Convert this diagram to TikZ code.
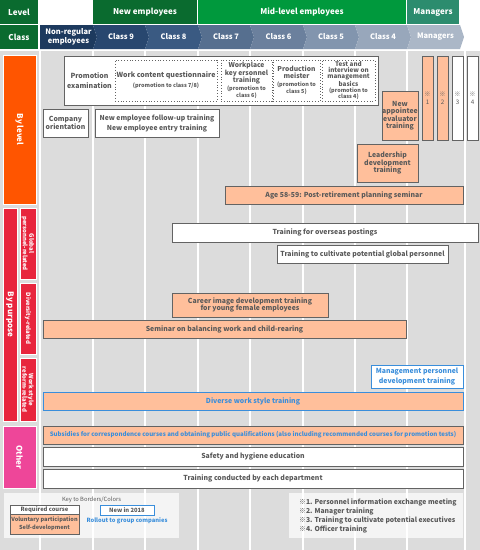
\documentclass[tikz,border=0pt]{standalone}
\usepackage{fontspec}
\setmainfont{Noto Sans CJK JP}
\usetikzlibrary{shapes,backgrounds,positioning}

\definecolor{bggray}{HTML}{DCDCDC}
\definecolor{txtgray}{HTML}{595959}
\definecolor{framegray}{HTML}{636363}
\definecolor{darkgreen}{HTML}{0A6B2F}
\definecolor{midgreen}{HTML}{00993D}
\definecolor{mgrgreen}{HTML}{2C8C6E}
\definecolor{clsA}{HTML}{1D3A5E}
\definecolor{clsB}{HTML}{28476F}
\definecolor{clsC}{HTML}{3A5A82}
\definecolor{clsD}{HTML}{566F8F}
\definecolor{clsE}{HTML}{6B809D}
\definecolor{clsF}{HTML}{8295AE}
\definecolor{clsG}{HTML}{98A7BB}
\definecolor{clsH}{HTML}{ABB7C7}
\definecolor{levelorange}{HTML}{FF5500}
\definecolor{purposered}{HTML}{E8253D}
\definecolor{otherpink}{HTML}{EE4699}
\definecolor{peach}{HTML}{FFBF9B}
\definecolor{newblue}{HTML}{3A8EDB}

\tikzstyle{colline}=[white,line width=1.2pt]
\tikzstyle{head}=[rectangle,inner sep=0pt,minimum height=24pt,text=white,
                  font=\bfseries\fontsize{8}{9}\selectfont]
\tikzstyle{classlbl}=[inner sep=0pt,align=center,text=white,
                      font=\bfseries\fontsize{7.5}{8.5}\selectfont]
\tikzstyle{sidebar}=[rectangle,draw=white,line width=.5pt,inner sep=0pt,rotate=-90,
                     align=center,text=white,font=\bfseries\fontsize{8}{9}\selectfont]
\tikzstyle{subbar}=[sidebar,minimum height=16pt,fill=purposered,
                    font=\bfseries\fontsize{6}{6.5}\selectfont]
\tikzstyle{course}=[rectangle,draw=framegray,line width=.8pt,fill=white,align=center,
                    inner sep=0pt,text=txtgray,font=\bfseries\fontsize{6.9}{7.5}\selectfont]
\tikzstyle{voluntary}=[course,fill=peach]
\tikzstyle{newcourse}=[course,draw=newblue,text=newblue]
\tikzstyle{promobox}=[course,dotted,line width=.9pt]
\tikzstyle{starbox}=[course,minimum width=11pt,minimum height=84pt,
                     font=\fontsize{6.2}{7.5}\selectfont]
\tikzstyle{legend}=[rectangle,fill=white,fill opacity=.7,inner sep=0pt]
\tikzstyle{plain}=[inner sep=0pt,align=center,text=txtgray]

\newcommand\promonote[1]{{\fontsize{5.5}{6}\selectfont #1}}

\begin{document}
\begin{tikzpicture}[x=1pt,y=-1pt,font=\bfseries\fontsize{7}{8}\selectfont]
\useasboundingbox (0,0) rectangle (480,550);
\fill[bggray] (0,50) rectangle (480,550);
\foreach \x in {40,93,145,198,250,303,355,407,465}
  \draw[colline] (\x,50) -- (\x,550);
\draw[colline] (0,50) -- (480,50);

\node[head,fill=darkgreen,minimum width=38pt] (level) at (19,12) {Level};
\node[head,fill=darkgreen,minimum width=38pt] (class) at (19,37) {Class};
\node[head,fill=darkgreen,minimum width=104pt] (newemp) at (145,12) {New employees};
\node[head,fill=midgreen,minimum width=208pt] (midemp) at (302,12) {Mid-level employees};
\node[head,fill=mgrgreen,minimum width=52pt] (mgr) at (433,12) {Managers};

\foreach \l/\r/\n/\c/\t [count=\i] in {40/93/0/clsA/{Non-regular\\employees},
    93/145/4/clsB/Class 9,145/198/4/clsC/Class 8,198/250/4/clsD/Class 7,
    250/303/4/clsE/Class 6,303/355/4/clsF/Class 5,355/407/4/clsG/Class 4,
    407/460/4/clsH/Managers}
{
  \fill[\c] (\l,25) -- (\r,25) -- (\r+4,37) -- (\r,49) -- (\l,49) -- (\l+\n,37) -- cycle;
  \node[classlbl] (class\i) at ({(\l+\r)/2+2},37) {\t};
}

\node[sidebar,fill=levelorange,minimum width=149pt,minimum height=33pt] (bylevel) at (19.5,129.5) {By level};
\node[sidebar,fill=purposered,minimum width=213pt,minimum height=14pt] (bypurpose) at (10,314.5) {By purpose};
\node[subbar,minimum width=71pt] (global) at (28,243.5) {Global\\personnel-related};
\node[subbar,minimum width=71pt] (diversity) at (28,318.5) {Diversity-related};
\node[subbar,minimum width=63pt] (workstyle) at (28,389.5) {Work style\\reform-related};
\node[sidebar,fill=otherpink,minimum width=62pt,minimum height=33pt] (other) at (19.5,457) {Other};

\node[course,minimum width=314pt,minimum height=49pt] (promo) at (221,80.5) {};
\node[plain,font=\bfseries\fontsize{7}{10}\selectfont] (promolbl) at (89.5,80.5) {Promotion\\examination};
\node[promobox,minimum width=102pt,minimum height=41pt,font=\bfseries\fontsize{7}{10}\selectfont]
  (toclassE) at (166,80.5) {Work content questionnaire\\\promonote{(promotion to class 7/8)}};
\node[promobox,minimum width=51pt,minimum height=41pt,font=\bfseries\fontsize{6.7}{7.5}\selectfont]
  (toclassF) at (246.5,80.5) {Workplace\\key ersonnel\\training\\\promonote{(promotion to}\\\promonote{class 6)}};
\node[promobox,minimum width=47pt,minimum height=41pt,font=\bfseries\fontsize{6.7}{7.5}\selectfont]
  (toclassG) at (296.5,80.5) {Production\\meister\\\promonote{(promotion to}\\\promonote{class 5)}};
\node[promobox,minimum width=53pt,minimum height=41pt,font=\bfseries\fontsize{6.3}{6.2}\selectfont]
  (toclassH) at (348.5,80.5) {Test and\\interview on\\management\\basics\\\promonote{(promotion to}\\\promonote{class 4)}};

\node[course,minimum width=45pt,minimum height=28pt] (orient) at (65.5,123) {Company\\orientation};
\node[course,minimum width=124pt,minimum height=28pt,font=\bfseries\fontsize{6.8}{10}\selectfont]
  (newtrain) at (157,123) {New employee follow-up training\\New employee entry training};
\node[voluntary,minimum width=36pt,minimum height=49pt] (evaluator) at (400,115.5) {New\\appointee\\evaluator\\training};
\node[starbox,fill=peach] (star1) at (427.5,98) {※\\1};
\node[starbox,fill=peach] (star2) at (442.5,98) {※\\2};
\node[starbox] (star3) at (457.5,98) {※\\3};
\node[starbox] (star4) at (472.5,98) {※\\4};
\node[voluntary,minimum width=61pt,minimum height=38pt] (leader) at (387.5,163) {Leadership\\development\\training};
\node[voluntary,minimum width=238pt,minimum height=18pt] (retire) at (344,195) {Age 58-59: Post-retirement planning seminar};

\node[course,minimum width=306pt,minimum height=19pt] (overseas) at (325,232.5) {Training for overseas postings};
\node[course,minimum width=171pt,minimum height=18pt] (globalpot) at (362.5,254) {Training to cultivate potential global personnel};
\node[voluntary,minimum width=156pt,minimum height=24pt] (career) at (250,305) {Career image development training\\for young female employees};
\node[voluntary,minimum width=363pt,minimum height=18pt] (childcare) at (224.5,329) {Seminar on balancing work and child-rearing};
\node[newcourse,minimum width=92pt,minimum height=23pt,font=\bfseries\fontsize{6.9}{10}\selectfont]
  (mgmtdev) at (417,376.5) {Management personnel\\development training};
\node[newcourse,fill=peach,minimum width=420pt,minimum height=18pt] (diverse) at (253,401) {Diverse work style training};

\node[voluntary,text=newblue,minimum width=420pt,minimum height=18pt,font=\bfseries\fontsize{6.1}{7}\selectfont]
  (subsidy) at (253,435) {Subsidies for correspondence courses and obtaining public qualifications (also including recommended courses for promotion tests)};
\node[course,minimum width=420pt,minimum height=19pt] (safety) at (253,456.5) {Safety and hygiene education};
\node[course,minimum width=420pt,minimum height=19pt] (dept) at (253,478.5) {Training conducted by each department};

\node[legend,minimum width=175pt,minimum height=45pt] (keypanel) at (91.5,515.5) {};
\node[plain,font=\fontsize{5.8}{6.5}\selectfont] (keytitle) at (91.5,500) {Key to Borders/Colors};
\node[course,minimum width=69pt,minimum height=9pt,font=\bfseries\fontsize{5.8}{7}\selectfont] (reqkey) at (44.5,509.5) {Required course};
\node[voluntary,minimum width=69pt,minimum height=20pt,font=\bfseries\fontsize{5.6}{7.7}\selectfont] (volkey) at (44.5,524) {Voluntary participation\\Self-development};
\node[course,draw=newblue,minimum width=54pt,minimum height=10pt,font=\bfseries\fontsize{5.8}{7}\selectfont] (newkey) at (127,510) {New in 2018};
\node[plain,text=newblue,font=\bfseries\fontsize{5.8}{7}\selectfont] (groupkey) at (127,521) {Rollout to group companies};

\node[legend,minimum width=174pt,minimum height=45pt] (notepanel) at (376,515.5) {};
\node[plain,align=left,anchor=west,font=\bfseries\fontsize{6.8}{9}\selectfont] (notes) at (299,516)
  {※1. Personnel information exchange meeting\\※2. Manager training\\※3. Training to cultivate potential executives\\※4. Officer training};
\end{tikzpicture}
\end{document}
